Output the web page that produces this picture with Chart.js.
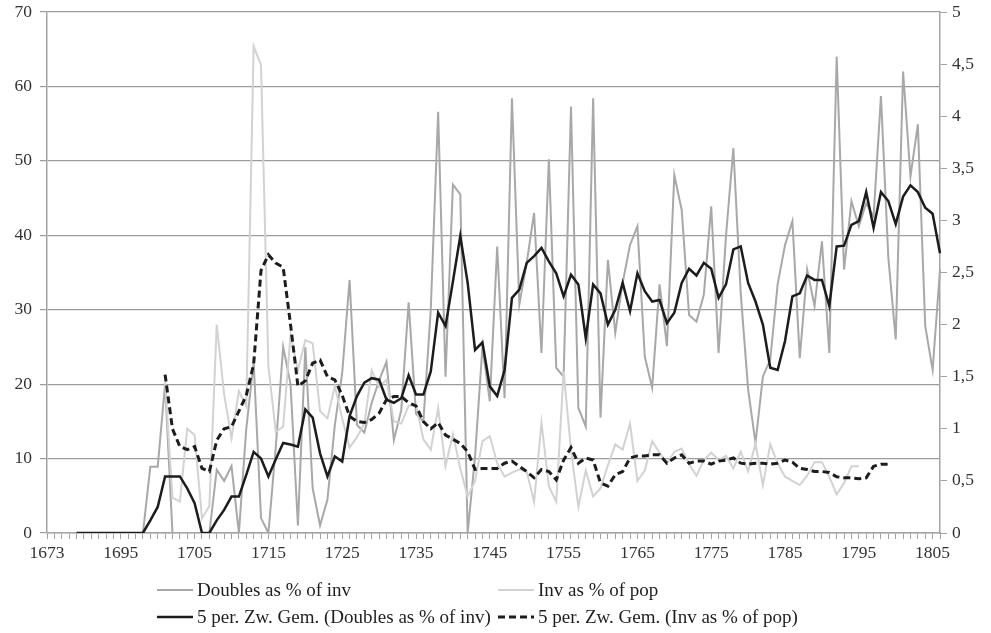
<!DOCTYPE html>
<html>
<head>
<meta charset="utf-8">
<script src="https://cdn.jsdelivr.net/npm/chart.js@4.4.1/dist/chart.umd.min.js"></script>
<style>
  html, body { margin: 0; padding: 0; background: #ffffff; }
  #wrap { width: 991px; height: 633px; }
</style>
</head>
<body>
<div id="wrap"><canvas id="chart" width="991" height="633"></canvas></div>
<script>
// Years on the category axis (1673 stands alone, then a continuous run 1686-1806)
const years = [1673,
  1686, 1687, 1688, 1689, 1690, 1691, 1692, 1693, 1694, 1695,
  1696, 1697, 1698, 1699, 1700, 1701, 1702, 1703, 1704, 1705,
  1706, 1707, 1708, 1709, 1710, 1711, 1712, 1713, 1714, 1715,
  1716, 1717, 1718, 1719, 1720, 1721, 1722, 1723, 1724, 1725,
  1726, 1727, 1728, 1729, 1730, 1731, 1732, 1733, 1734, 1735,
  1736, 1737, 1738, 1739, 1740, 1741, 1742, 1743, 1744, 1745,
  1746, 1747, 1748, 1749, 1750, 1751, 1752, 1753, 1754, 1755,
  1756, 1757, 1758, 1759, 1760, 1761, 1762, 1763, 1764, 1765,
  1766, 1767, 1768, 1769, 1770, 1771, 1772, 1773, 1774, 1775,
  1776, 1777, 1778, 1779, 1780, 1781, 1782, 1783, 1784, 1785,
  1786, 1787, 1788, 1789, 1790, 1791, 1792, 1793, 1794, 1795,
  1796, 1797, 1798, 1799, 1800, 1801, 1802, 1803, 1804, 1805, 1806];

// Doubles as % of inventories (left axis)
const doublesPct = [0,
  0, 0, 0, 0, 0, 0, 0, 0, 0, 0,
  0, 0, 0, 8.9, 8.9, 20, 0, 0, 0, 0,
  0, 0, 8.5, 7, 9, 0, 14, 23, 2, 0,
  11.5, 25, 20, 1, 25, 6, 1, 4.5, 14.5, 21.5,
  34, 14.5, 13.5, 17.5, 20.5, 23, 12.5, 16.5, 31, 16,
  15, 30, 56.6, 21, 46.8, 45.5, 0, 10.3, 25, 17.7,
  38.5, 18.1, 58.4, 30.7, 36.3, 43, 24.2, 50.2, 22.2, 21,
  57.3, 16.8, 14.3, 58.4, 15.5, 36.7, 26.9, 33.6, 38.7, 41.2,
  23.7, 19.5, 33.4, 25.1, 48.1, 43.4, 29.3, 28.4, 32.0, 43.9,
  24.2, 39.9, 51.7, 32.2, 19.3, 12.1, 21.0, 23.3, 33.4, 38.7,
  41.9, 23.5, 35.4, 30.5, 39.2, 24.2, 64.0, 35.4, 44.6, 41.2,
  44.3, 42.5, 58.7, 37, 26.0, 62.0, 47.9, 54.9, 27.8, 21.9, 35.4];

// Inventories as % of population (right axis)
const invPct = [null,
  null, null, null, null, null, null, null, null, null, null,
  null, null, null, null, null, 1.45, 0.34, 0.30, 1.0, 0.94,
  0.14, 0.26, 2.0, 1.33, 0.91, 1.36, 1.22, 4.67, 4.49, 1.6,
  0.97, 1.02, 1.9, 1.56, 1.85, 1.82, 1.17, 1.1, 1.41, 1.1,
  0.82, 0.92, 1.05, 1.56, 1.4, 1.47, 1.07, 1.05, 1.22, 1.23,
  0.9, 0.8, 1.2, 0.64, 0.95, 0.62, 0.35, 0.5, 0.88, 0.93,
  0.67, 0.54, 0.58, 0.61, 0.59, 0.30, 1.06, 0.45, 0.3, 1.55,
  0.8, 0.25, 0.6, 0.35, 0.43, 0.65, 0.85, 0.8, 1.05, 0.5,
  0.6, 0.88, 0.77, 0.67, 0.78, 0.81, 0.66, 0.55, 0.70, 0.77,
  0.70, 0.74, 0.62, 0.78, 0.59, 0.86, 0.46, 0.85, 0.67, 0.54,
  0.50, 0.46, 0.55, 0.68, 0.68, 0.54, 0.37, 0.48, 0.64, 0.64,
  null, null, null, null, null, null, null, null, null, null, null];

// 5-period moving average of doubles (left axis)
const doublesAvg = [null,
  null, null, null, 0, 0, 0, 0, 0, 0, 0,
  0, 0, 0, 1.7, 3.5, 7.6, 7.6, 7.6, 6.0, 4.0,
  0, 0, 1.7, 3.1, 4.9, 4.9, 7.8, 10.9, 10.0, 7.6,
  9.9, 12.1, 11.9, 11.6, 16.6, 15.5, 10.7, 7.6, 10.3, 9.6,
  15.7, 18.4, 20.2, 20.8, 20.6, 17.9, 17.5, 18.1, 21.2, 18.6,
  18.6, 21.7, 29.6, 27.8, 33.8, 39.9, 33.6, 24.6, 25.6, 19.7,
  18.4, 21.9, 31.6, 32.7, 36.3, 37.2, 38.3, 36.5, 34.9, 31.8,
  34.7, 33.4, 26.2, 33.4, 32.2, 28.0, 30.0, 33.6, 29.8, 34.9,
  32.5, 31.1, 31.3, 28.2, 29.6, 33.6, 35.5, 34.6, 36.3, 35.5,
  31.6, 33.4, 38.1, 38.5, 33.6, 31.1, 28.0, 22.2, 21.9, 25.8,
  31.8, 32.2, 34.6, 34.0, 34.0, 30.5, 38.5, 38.6, 41.4, 41.9,
  45.8, 41.0, 45.8, 44.6, 41.5, 45.2, 46.7, 45.8, 43.7, 42.9, 37.6];

// 5-period moving average of inventories (right axis)
const invAvg = [null,
  null, null, null, null, null, null, null, null, null, null,
  null, null, null, null, null, 1.52, 1.0, 0.83, 0.80, 0.83,
  0.62, 0.59, 0.89, 1.0, 1.02, 1.17, 1.32, 1.62, 2.52, 2.67,
  2.59, 2.55, 2.0, 1.41, 1.46, 1.63, 1.66, 1.50, 1.47, 1.32,
  1.12, 1.07, 1.06, 1.09, 1.15, 1.28, 1.31, 1.31, 1.25, 1.22,
  1.07, 1.0, 1.06, 0.94, 0.90, 0.86, 0.78, 0.61, 0.62, 0.62,
  0.62, 0.67, 0.69, 0.64, 0.59, 0.53, 0.61, 0.59, 0.51, 0.70,
  0.82, 0.67, 0.72, 0.70, 0.48, 0.45, 0.56, 0.59, 0.72, 0.74,
  0.74, 0.75, 0.75, 0.67, 0.72, 0.75, 0.67, 0.69, 0.69, 0.66,
  0.69, 0.70, 0.72, 0.67, 0.66, 0.67, 0.67, 0.66, 0.67, 0.70,
  0.68, 0.62, 0.61, 0.59, 0.59, 0.58, 0.54, 0.53, 0.53, 0.52,
  0.53, 0.64, 0.66, 0.66, null, null, null, null, null, null, null];

const FONT = "'Liberation Serif', 'Times New Roman', serif";
const AXIS_GREY = '#a3a3a3';
const GRID_GREY = '#9c9c9c';

Chart.defaults.font.family = FONT;
Chart.defaults.font.size = 17.5;
Chart.defaults.color = '#333333';

// Two-column legend under the axis, drawn from the dataset styles
const gridLegend = {
  id: 'gridLegend',
  afterDraw(chart) {
    const ctx = chart.ctx;
    const cols = [157, 498];
    const rows = [590, 617];
    chart.data.datasets.forEach((ds, k) => {
      const x = cols[k % 2];
      const y = rows[Math.floor(k / 2)];
      ctx.save();
      ctx.strokeStyle = ds.borderColor;
      ctx.lineWidth = ds.borderWidth;
      ctx.setLineDash(ds.borderDash || []);
      ctx.beginPath();
      ctx.moveTo(x, y);
      ctx.lineTo(x + 36, y);
      ctx.stroke();
      ctx.setLineDash([]);
      ctx.fillStyle = '#1e1e1e';
      ctx.font = '19px ' + FONT;
      ctx.textBaseline = 'middle';
      ctx.textAlign = 'left';
      ctx.fillText(ds.label, x + 40, y + 1);
      ctx.restore();
    });
  }
};

// value axes keep their labels inside the fixed margins
function fixVertical(width) {
  return scale => {
    scale.width = width;
    scale.paddingTop = 0;
    scale.paddingBottom = 0;
  };
}

new Chart(document.getElementById('chart'), {
  type: 'line',
  data: {
    labels: years,
    datasets: [
      { label: 'Doubles as % of inv', data: doublesPct, yAxisID: 'y',
        borderColor: '#a8a8a8', borderWidth: 2, order: 4 },
      { label: 'Inv as % of pop', data: invPct, yAxisID: 'y1',
        borderColor: '#d2d2d2', borderWidth: 2, order: 3 },
      { label: '5 per. Zw. Gem. (Doubles as % of inv)', data: doublesAvg, yAxisID: 'y',
        borderColor: '#1c1c1c', borderWidth: 2.5, order: 2 },
      { label: '5 per. Zw. Gem. (Inv as % of pop)', data: invAvg, yAxisID: 'y1',
        borderColor: '#1c1c1c', borderWidth: 3, borderDash: [7, 4], order: 1 }
    ]
  },
  options: {
    responsive: false,
    animation: false,
    devicePixelRatio: 1,
    spanGaps: false,
    elements: { point: { radius: 0, hoverRadius: 0 }, line: { tension: 0, borderCapStyle: 'butt', borderJoinStyle: 'miter' } },
    layout: { padding: { top: 12, left: 0, right: 0, bottom: 0 } },
    plugins: { legend: { display: false }, tooltip: { enabled: false } },
    scales: {
      x: {
        type: 'category',
        offset: false,
        grid: { drawOnChartArea: false, color: AXIS_GREY, tickLength: 6, lineWidth: 1 },
        border: { color: AXIS_GREY, width: 1.5 },
        ticks: {
          autoSkip: false, maxRotation: 0, minRotation: 0, padding: 4,
          callback(value, index) { return index % 10 === 0 ? this.getLabelForValue(value) : ''; }
        },
        afterFit(scale) { scale.height = 100; }
      },
      y: {
        position: 'left', min: 0, max: 70,
        ticks: { stepSize: 10, padding: 8 },
        grid: { color: GRID_GREY, lineWidth: 1.2, tickLength: 7 },
        border: { color: AXIS_GREY, width: 1.5 },
        afterFit: fixVertical(47)
      },
      y1: {
        position: 'right', min: 0, max: 5,
        ticks: { stepSize: 0.5, padding: 5, callback: v => String(v).replace('.', ',') },
        grid: { drawOnChartArea: false, color: AXIS_GREY, tickLength: 7 },
        border: { color: AXIS_GREY, width: 1.5 },
        afterFit: fixVertical(51)
      }
    }
  },
  plugins: [gridLegend]
});
</script>
</body>
</html>
